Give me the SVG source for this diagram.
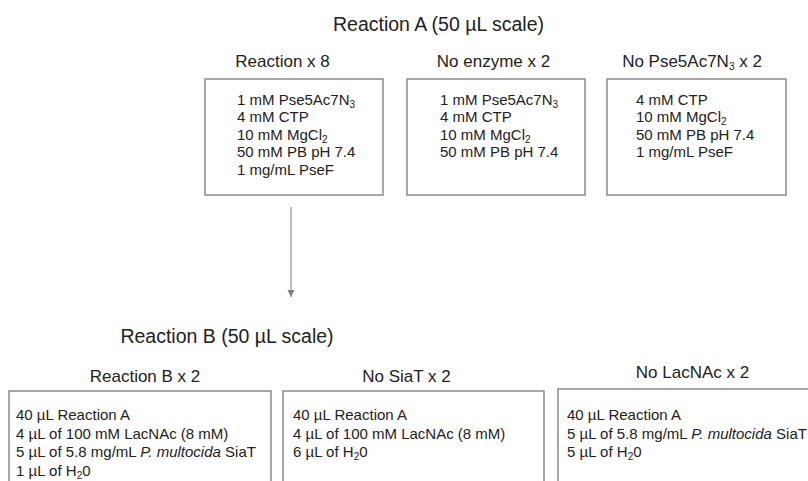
<svg xmlns="http://www.w3.org/2000/svg" width="808" height="481" viewBox="0 0 808 481">
<style>
text { font-family: "Liberation Sans", Arial, sans-serif; fill: #222; }
.title { font-size: 19.5px; text-anchor: middle; }
.head { font-size: 17px; text-anchor: middle; }
.body { font-size: 15px; }
.sub { font-size: 10px; }
.box { fill: #fff; stroke: #8a8a8a; stroke-width: 1.5; }
.conn { stroke: #a6a6a6; stroke-width: 1.5; fill: none; }
</style>
<defs>
<marker id="arrow" viewBox="0 0 10 10" refX="10" refY="5" markerWidth="5" markerHeight="5" markerUnits="strokeWidth" orient="auto">
<path d="M0,0 L10,5 L0,10 z" fill="#7f7f7f"/>
</marker>
</defs>
<rect width="808" height="481" fill="#fff"/>

<g id="titleA"><text class="title" x="438.5" y="31">Reaction A (50 µL scale)</text></g>

<g id="reaction">
<text class="head" x="282.5" y="67">Reaction x 8</text>
<rect class="box" x="205" y="79" width="178" height="116"/>
<text class="body" x="237" y="104.5">1 mM Pse5Ac7N<tspan class="sub" dy="3">3</tspan></text>
<text class="body" x="237" y="122">4 mM CTP</text>
<text class="body" x="237" y="139.5">10 mM MgCl<tspan class="sub" dy="3">2</tspan></text>
<text class="body" x="237" y="157">50 mM PB pH 7.4</text>
<text class="body" x="237" y="174.5">1 mg/mL PseF</text>
</g>

<g id="noenzyme">
<text class="head" x="493.5" y="67">No enzyme x 2</text>
<rect class="box" x="407" y="79" width="178" height="116"/>
<text class="body" x="440" y="104.5">1 mM Pse5Ac7N<tspan class="sub" dy="3">3</tspan></text>
<text class="body" x="440" y="122">4 mM CTP</text>
<text class="body" x="440" y="139.5">10 mM MgCl<tspan class="sub" dy="3">2</tspan></text>
<text class="body" x="440" y="157">50 mM PB pH 7.4</text>
</g>

<g id="nopse">
<text class="head" x="692" y="67">No Pse5Ac7N<tspan class="sub" dy="3">3</tspan><tspan dy="-3"> x 2</tspan></text>
<rect class="box" x="607" y="79" width="179" height="116"/>
<text class="body" x="636" y="104.5">4 mM CTP</text>
<text class="body" x="636" y="122">10 mM MgCl<tspan class="sub" dy="3">2</tspan></text>
<text class="body" x="636" y="139.5">50 mM PB pH 7.4</text>
<text class="body" x="636" y="157">1 mg/mL PseF</text>
</g>

<g id="connectors">
<line class="conn" x1="291" y1="207" x2="291" y2="297" marker-end="url(#arrow)"/>
</g>

<g id="titleB"><text class="title" x="227" y="343">Reaction B (50 µL scale)</text></g>

<g id="reactionB">
<text class="head" x="145" y="382">Reaction B x 2</text>
<rect class="box" x="9" y="391" width="262" height="130"/>
<text class="body" x="16" y="420">40 µL Reaction A</text>
<text class="body" x="16" y="438.5">4 µL of 100 mM LacNAc (8 mM)</text>
<text class="body" x="16" y="457">5 µL of 5.8 mg/mL <tspan font-style="italic">P. multocida</tspan> SiaT</text>
<text class="body" x="16" y="475.5">1 µL of H<tspan class="sub" dy="3">2</tspan><tspan dy="-3">0</tspan></text>
</g>

<g id="nosiat">
<text class="head" x="406.5" y="382">No SiaT x 2</text>
<rect class="box" x="283" y="391" width="261" height="130"/>
<text class="body" x="293" y="420">40 µL Reaction A</text>
<text class="body" x="293" y="438.5">4 µL of 100 mM LacNAc (8 mM)</text>
<text class="body" x="293" y="457">6 µL of H<tspan class="sub" dy="3">2</tspan><tspan dy="-3">0</tspan></text>
</g>

<g id="nolacnac">
<text class="head" x="692.5" y="378">No LacNAc x 2</text>
<rect class="box" x="558" y="389" width="270" height="130"/>
<text class="body" x="567" y="420">40 µL Reaction A</text>
<text class="body" x="567" y="438.5">5 µL of 5.8 mg/mL <tspan font-style="italic">P. multocida</tspan> SiaT</text>
<text class="body" x="567" y="457">5 µL of H<tspan class="sub" dy="3">2</tspan><tspan dy="-3">0</tspan></text>
</g>
</svg>
